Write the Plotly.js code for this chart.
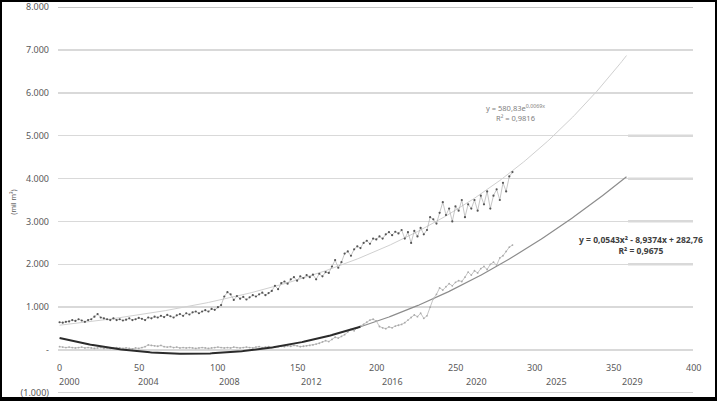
<!DOCTYPE html>
<html>
<head>
<meta charset="utf-8">
<script src="https://cdn.plot.ly/plotly-3.0.1.min.js"></script>
<style>
  html, body { margin: 0; padding: 0; background: #fff; }
  #wrap { position: relative; width: 720px; height: 401px; }
  #chart { width: 720px; height: 401px; }
  #frame { position: absolute; left: 0; top: 0; width: 717px; height: 401px; box-sizing: border-box;
           border-left: 2px solid #000; border-top: 2px solid #000; border-right: 2px solid #000; border-bottom: 4px solid #000;
           pointer-events: none; }
</style>
</head>
<body>
<div id="wrap"><div id="chart"></div><div id="frame"></div></div>
<script>
// ---- Data (monthly index, every 2nd month) ----
const upperSeries = [
  650, 640, 660, 670, 700, 680, 720, 690, 660, 700, 720,
  780, 840, 760, 740, 720, 700, 740, 700, 720, 690,
  710, 740, 700, 720, 750, 730, 700, 760, 740, 780,
  760, 800, 770, 820, 790, 760, 810, 840, 800, 860,
  830, 880, 900, 860, 900, 930, 900, 960, 940, 1000,
  1050, 1250, 1350, 1300, 1170, 1260, 1200, 1240, 1180, 1230,
  1280, 1250, 1300, 1340, 1280, 1330, 1380, 1500, 1420, 1560,
  1600, 1550, 1650, 1700, 1620, 1720, 1680, 1750, 1700, 1760,
  1650, 1780, 1720, 1820, 1800, 1950, 2100, 1920, 2050, 2250,
  2300, 2200, 2350, 2420, 2380, 2500, 2550, 2480, 2600, 2580,
  2650, 2600, 2700, 2750, 2680, 2760, 2720, 2800, 2600, 2750,
  2500, 2780, 2650, 2850, 2700, 2800, 3100, 3050, 2950, 3200,
  3450, 3150, 3300, 3000, 3350, 3250, 3500, 3100, 3400, 3300,
  3500, 3250, 3600, 3400, 3700, 3300, 3600, 3750, 3500, 3900,
  3700, 4050, 4150
];
const lowerSeries = [
  80, 70, 60, 70, 60, 50, 60, 70, 50, 60, 50,
  40, 50, 60, 40, 50, 40, 50, 60, 50, 40,
  50, 40, 30, 50, 40, 60, 80, 120, 110, 100,
  90, 110, 80, 70, 80, 60, 70, 50, 60, 50,
  60, 50, 40, 50, 60, 50, 40, 50, 60, 70,
  60, 50, 60, 50, 70, 60, 50, 60, 70, 60,
  50, 70, 80, 60, 70, 80, 60, 70, 80, 90,
  80, 100, 90, 110, 100, 80, 90, 100, 110, 120,
  140, 160, 190, 220, 200, 250, 300, 280, 320, 360,
  420, 480, 450, 520, 560, 600, 650, 700, 720, 680,
  550, 520, 500, 540, 520, 560, 580, 600, 640, 700,
  760, 820, 780, 860, 740, 800, 1000, 1200, 1300, 1450,
  1400, 1480, 1550, 1500, 1580, 1620, 1600, 1700, 1820, 1750,
  1850, 1800, 1900, 1950, 1880, 2000, 2050, 1980, 2150, 2200,
  2300, 2400, 2450
];
const monthStep = 2;
const monthIdx = upperSeries.map((_, i) => i * monthStep);

// Trendline equations as printed on the chart
const expCoef = [580.83, 0.0069];            // y = a * e^(b x)
const quadCoef = [0.0543, -8.9374, 282.76];  // y = a x^2 + b x + c
const trendEnd = [358];
const quadDarkEnd = [190];

// Axis labels
const yTickVals = [8000, 7000, 6000, 5000, 4000, 3000, 2000, 1000, 0, -1000];
const yTickText = ['8.000', '7.000', '6.000', '5.000', '4.000', '3.000', '2.000', '1.000', '-', '(1.000)'];
const xNumLabels = ['0', '50', '100', '150', '200', '250', '300', '350', '400'];
const xNumPos = [0, 50, 100, 150, 200, 250, 300, 350, 400];
const yearLabels = ['2000', '2004', '2008', '2012', '2016', '2020', '2025', '2029'];
const yearPos = [6, 56, 107, 159, 210, 263, 314, 362];

// ---- build trend curves ----
function rng(a, b, s) { const r = []; for (let v = a; v <= b + 1e-9; v += s) r.push(v); return r; }
const tx = rng(0, trendEnd[0], 1);
const expY = tx.map(x => expCoef[0] * Math.exp(expCoef[1] * x));
const quad = x => quadCoef[0] * x * x + quadCoef[1] * x + quadCoef[2];
const qxDark = rng(0, quadDarkEnd[0], 1);
const qxLight = rng(quadDarkEnd[0], trendEnd[0], 1);

const traces = [
  { x: tx, y: expY, mode: 'lines', line: { color: '#d0d0d0', width: 1 }, hoverinfo: 'skip' },
  { x: qxLight, y: qxLight.map(quad), mode: 'lines', line: { color: '#8c8c8c', width: 1.2 }, hoverinfo: 'skip' },
  { x: monthIdx, y: lowerSeries, mode: 'lines+markers', line: { color: '#bdbdbd', width: 0.9 },
    marker: { size: 1.8, color: '#aaaaaa' } },
  { x: qxDark, y: qxDark.map(quad), mode: 'lines', line: { color: '#2b2b2b', width: 2 }, hoverinfo: 'skip' },
  { x: monthIdx, y: upperSeries, mode: 'lines+markers', line: { color: '#a0a0a0', width: 0.6 },
    marker: { size: 2.2, color: '#555555' } }
];

const font = { family: 'Noto Sans, Open Sans, sans-serif', size: 9, color: '#595959' };

const shapes = [];
function seg(y, x0, x1, color, w) {
  shapes.push({ type: 'line', xref: 'x', yref: 'y', x0: x0, x1: x1, y0: y, y1: y, line: { color: color, width: w }, layer: 'below' });
}
seg(8000, -1, 400, '#b3b3b3', 1.6);
seg(7000, -1, 400, '#b3b3b3', 1.6);
[6000, 5000, 4000, 3000, 2000, 1000].forEach(v => seg(v, 359, 400, '#b3b3b3', 1.8));
seg(0, 287, 400, '#b3b3b3', 1.8);
seg(-1000, -1, 400, '#c4c4c4', 1.6);

const annotations = [];
xNumLabels.forEach((t, i) => annotations.push({ x: xNumPos[i], y: -400, xref: 'x', yref: 'y', text: t, showarrow: false, font: font }));
yearLabels.forEach((t, i) => annotations.push({ x: yearPos[i], y: -730, xref: 'x', yref: 'y', text: t, showarrow: false, font: font }));
annotations.push({ x: 288, y: 5550, xref: 'x', yref: 'y', showarrow: false, align: 'center',
  text: 'y = 580,83e<sup>0,0069x</sup><br>R² = 0,9816', font: { family: font.family, size: 7.5, color: '#808080' } });
annotations.push({ x: 367, y: 2450, xref: 'x', yref: 'y', showarrow: false, align: 'center',
  text: '<b>y = 0,0543x² - 8,9374x + 282,76<br>R² = 0,9675</b>', font: { family: font.family, size: 8.5, color: '#404040' } });
annotations.push({ x: 0, xref: 'paper', xshift: -51, y: 3450, yref: 'y', textangle: -90, showarrow: false,
  text: '(mil m³)', font: { family: font.family, size: 7, color: '#595959' } });

const layout = {
  width: 720, height: 401,
  margin: { l: 58, r: 27, t: 7, b: 8 },
  paper_bgcolor: '#ffffff', plot_bgcolor: '#ffffff',
  showlegend: false,
  font: font,
  xaxis: { range: [-1, 400], showgrid: false, zeroline: false, showticklabels: false, showline: false, fixedrange: true },
  yaxis: { range: [-1000, 8000], tickvals: yTickVals, ticktext: yTickText, showgrid: true, gridcolor: '#d9d9d9', gridwidth: 1.6,
    zeroline: true, zerolinecolor: '#d9d9d9', zerolinewidth: 1.6, showline: false, ticks: '', ticklabelstandoff: 8, tickfont: font },
  shapes: shapes,
  annotations: annotations
};

Plotly.newPlot('chart', traces, layout, { displayModeBar: false, staticPlot: true });
</script>
</body>
</html>
